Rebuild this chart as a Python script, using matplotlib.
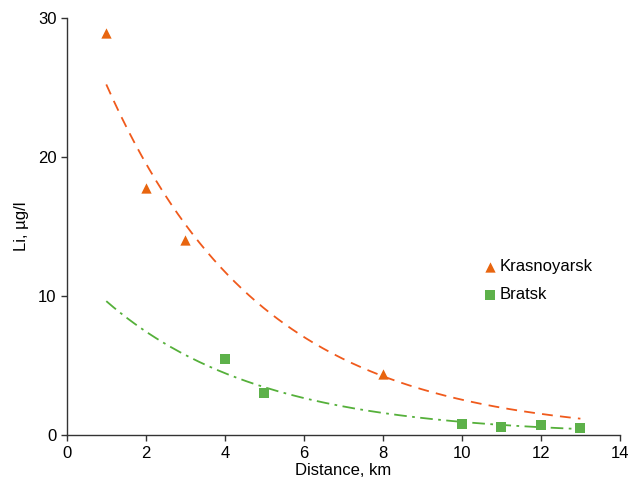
import numpy as np
import matplotlib
matplotlib.use("Agg")
from matplotlib import pyplot as plt

plt.rcParams['font.family'] = ['Liberation Sans', 'DejaVu Sans']

# data
kras_x = [1, 2, 3, 8]
kras_y = [28.9, 17.8, 14.0, 4.4]
brat_x = [4, 5, 10, 11, 12, 13]
brat_y = [5.5, 3.0, 0.8, 0.6, 0.7, 0.5]

orange = '#E8650F'
orange_line = '#F05A1C'
green = '#5DB14A'
green_line = '#55B03A'


def expfit(x, y):
    b, lna = np.polyfit(x, np.log(y), 1)
    return np.exp(lna), b


fig = plt.figure(figsize=(6.3, 4.94), dpi=100)
ax = fig.add_axes([0.106, 0.119, 0.878, 0.845])

xx = np.linspace(1, 13, 200)
a, b = expfit(kras_x, kras_y)
ax.plot(xx, a * np.exp(b * xx), color=orange_line, lw=1.3, dashes=(6, 4))
a, b = expfit(brat_x, brat_y)
ax.plot(xx, a * np.exp(b * xx), color=green_line, lw=1.3, dashes=(7, 3, 1.5, 3))

ax.scatter(kras_x, kras_y, marker='^', s=55, color=orange, zorder=3, label='Krasnoyarsk', linewidths=0)
ax.scatter(brat_x, brat_y, marker='s', s=50, color=green, zorder=3, label='Bratsk', linewidths=0)

ax.set_xlim(0, 14)
ax.set_ylim(0, 30)
ax.set_xticks(range(0, 15, 2))
ax.set_yticks([0, 10, 20, 30])
ax.set_xlabel('Distance, km', fontsize=12, labelpad=2)
ax.set_ylabel('Li, µg/l', fontsize=12, labelpad=6)
ax.tick_params(labelsize=12, direction='out', length=4, color='#333333', width=1)
for s in ['top', 'right']:
    ax.spines[s].set_visible(False)
for s in ['left', 'bottom']:
    ax.spines[s].set_color('#333333')
    ax.spines[s].set_linewidth(1)

ax.legend(loc='center left', bbox_to_anchor=(0.738, 0.37), frameon=False, fontsize=12,
          handletextpad=0.05, handlelength=1.0, labelspacing=0.8, borderaxespad=0)

fig.savefig('out.png', dpi=100)
